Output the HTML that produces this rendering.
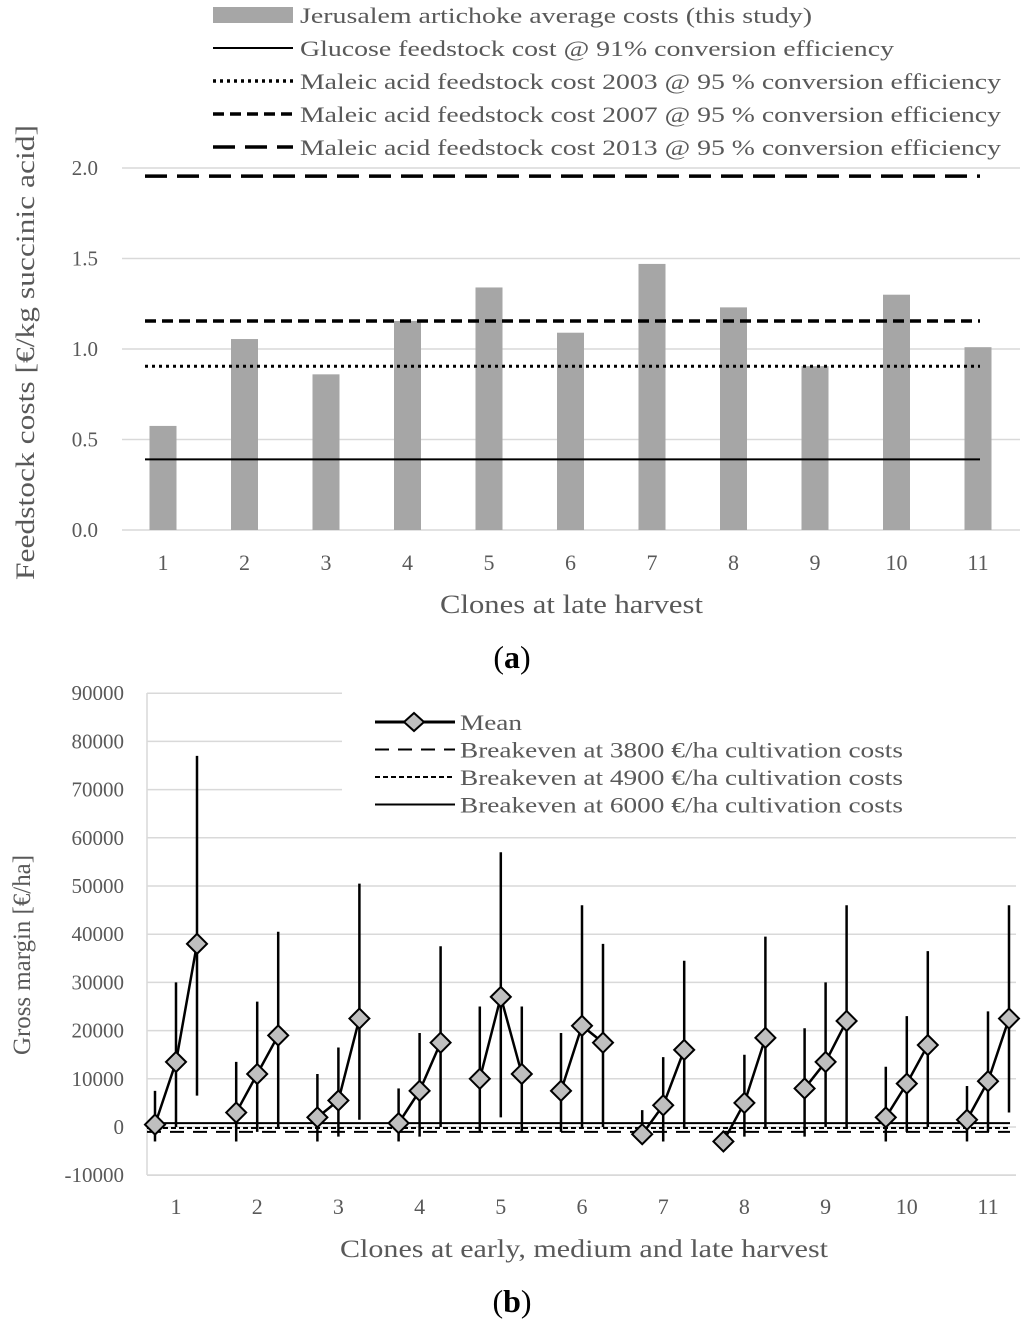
<!DOCTYPE html>
<html><head><meta charset="utf-8"><style>
body{margin:0;background:#fff;}
svg text{font-family:"Liberation Serif",serif;fill:#595959;}
</style></head><body>
<svg id="s" width="1024" height="1325" xmlns="http://www.w3.org/2000/svg">
<g id="ga"></g>
<g id="gb"></g>
<text x="512" y="668" text-anchor="middle" font-size="32" style="fill:#000">(<tspan font-weight="bold">a</tspan>)</text>
<text x="512" y="1312" text-anchor="middle" font-size="32" style="fill:#000">(<tspan font-weight="bold">b</tspan>)</text>
</svg>
<script>
const NS="http://www.w3.org/2000/svg";
// Chart A data
const aCats=["1","2","3","4","5","6","7","8","9","10","11"];
const aBars=[0.575,1.055,0.86,1.155,1.34,1.09,1.47,1.23,0.905,1.30,1.01];
const aTicks=[0,0.5,1.0,1.5,2.0];
const aGlucose=0.39, aMal2003=0.905, aMal2007=1.155, aMal2013=1.955;
// Chart B data
const bCats=["1","2","3","4","5","6","7","8","9","10","11"];
const bMeans=[[500,13500,38000],[3000,11000,19000],[2000,5500,22500],[800,7500,17500],[10000,27000,11000],[7500,21000,17500],[-1500,4500,16000],[-3000,5000,18500],[8000,13500,22000],[2000,9000,17000],[1500,9500,22500]];
const bHigh=[[7500,30000,77000],[13500,26000,40500],[11000,16500,50500],[8000,19500,37500],[25000,57000,25000],[19500,46000,38000],[3500,14500,34500],[-3000,15000,39500],[20500,30000,46000],[12500,23000,36500],[8500,24000,46000]];
const bLow=[[-3000,0,6500],[-3000,-1000,0],[-3000,-2000,1500],[-3000,-2000,0],[-1000,2000,-1000],[-1000,0,0],[-3000,-3000,0],[-3000,-2000,0],[-2000,0,0],[-3000,-1000,0],[-3000,-1000,3000]];
const bTicks=[-10000,0,10000,20000,30000,40000,50000,60000,70000,80000,90000];
const bBreak3800=-1000, bBreak4900=-200, bBreak6000=800;

function el(p,tag,at,name,txt){const e=document.createElementNS(NS,tag);for(const k in at)e.setAttribute(k,at[k]);


if(txt!==undefined)e.textContent=txt;p.appendChild(e);return e;}

// ---- Chart A
const ga=document.getElementById('ga');
const ay=v=>530-v*181, ax=i=>163+i*81.5;
aTicks.forEach(t=>{el(ga,'line',{x1:122,x2:1020,y1:ay(t),y2:ay(t),stroke:'#d9d9d9','stroke-width':1.5},'gridline-a');
el(ga,'text',{x:98,y:ay(t)+7,'text-anchor':'end','font-size':21},'y-tick-a',t.toFixed(1));});
aBars.forEach((v,i)=>{el(ga,'rect',{x:ax(i)-13.5,y:ay(v),width:27,height:ay(0)-ay(v),fill:'#a6a6a6'},'bar-clone-'+aCats[i]);
el(ga,'text',{x:ax(i),y:570,'text-anchor':'middle','font-size':22},'x-tick-a',aCats[i]);});
el(ga,'line',{x1:145,x2:980,y1:ay(aGlucose),y2:ay(aGlucose),stroke:'#000','stroke-width':2},'glucose-line');
el(ga,'line',{x1:145,x2:980,y1:ay(aMal2003),y2:ay(aMal2003),stroke:'#000','stroke-width':3,'stroke-dasharray':'3 4'},'maleic-2003-line');
el(ga,'line',{x1:145,x2:980,y1:ay(aMal2007),y2:ay(aMal2007),stroke:'#000','stroke-width':3.5,'stroke-dasharray':'11 6'},'maleic-2007-line');
el(ga,'line',{x1:145,x2:980,y1:ay(aMal2013),y2:ay(aMal2013),stroke:'#000','stroke-width':3.5,'stroke-dasharray':'22 10'},'maleic-2013-line');
el(ga,'text',{x:440,y:613,'font-size':26,textLength:263,lengthAdjust:'spacingAndGlyphs'},'x-axis-title-a','Clones at late harvest');
el(ga,'text',{x:0,y:0,'font-size':26,textLength:455,lengthAdjust:'spacingAndGlyphs',transform:'translate(34,580) rotate(-90)'},'y-axis-title-a','Feedstock costs  [€/kg succinic acid]');
const legA=[['Jerusalem artichoke average costs (this study)','bar',512],['Glucose feedstock cost @ 91% conversion efficiency','none',594],['Maleic acid feedstock cost 2003 @ 95 % conversion efficiency','3 4',701],['Maleic acid feedstock cost 2007 @ 95 % conversion efficiency','11 6',701],['Maleic acid feedstock cost 2013 @ 95 % conversion efficiency','22 10',701]];
legA.forEach((l,i)=>{const y=15+i*33;
if(l[1]==='bar')el(ga,'rect',{x:213,y:y-8,width:80,height:16,fill:'#a6a6a6'},'legend-swatch-a');
else el(ga,'line',{x1:213,x2:293,y1:y,y2:y,stroke:'#000','stroke-width':l[1]==='none'?2:3.5,'stroke-dasharray':l[1]==='none'?'':l[1]},'legend-swatch-a');
el(ga,'text',{x:300,y:y+8,'font-size':22,textLength:l[2],lengthAdjust:'spacingAndGlyphs'},'legend-entry-a',l[0]);});

// ---- Chart B
const gb=document.getElementById('gb');
const by=v=>1127-v*0.00482, bx=(i,j)=>176+i*81.2+(j-1)*21;
el(gb,'line',{x1:147,x2:147,y1:693,y2:1175,stroke:'#d9d9d9','stroke-width':1.5},'y-axis-b');
bTicks.forEach(t=>{const x2=t>=70000?342:1016;
el(gb,'line',{x1:147,x2:x2,y1:by(t),y2:by(t),stroke:'#d9d9d9','stroke-width':1.5},'gridline-b');
el(gb,'text',{x:124,y:by(t)+7,'text-anchor':'end','font-size':21},'y-tick-b',String(t));});
el(gb,'line',{x1:147,x2:1016,y1:1175,y2:1175,stroke:'#d9d9d9','stroke-width':1.5},'x-axis-b');
el(gb,'line',{x1:147,x2:1010,y1:by(bBreak6000),y2:by(bBreak6000),stroke:'#000','stroke-width':2},'breakeven-6000-line');
el(gb,'line',{x1:147,x2:1010,y1:by(bBreak4900),y2:by(bBreak4900),stroke:'#000','stroke-width':2,'stroke-dasharray':'5 3'},'breakeven-4900-line');
el(gb,'line',{x1:147,x2:1010,y1:by(bBreak3800),y2:by(bBreak3800),stroke:'#000','stroke-width':2,'stroke-dasharray':'14 9'},'breakeven-3800-line');
bMeans.forEach((g,i)=>{
 g.forEach((v,j)=>el(gb,'line',{x1:bx(i,j),x2:bx(i,j),y1:by(bHigh[i][j]),y2:by(bLow[i][j]),stroke:'#000','stroke-width':2.5},'error-bar'));
 el(gb,'polyline',{points:g.map((v,j)=>bx(i,j)+','+by(v)).join(' '),fill:'none',stroke:'#000','stroke-width':2.5},'mean-line-clone-'+bCats[i]);
 g.forEach((v,j)=>{const x=bx(i,j),y=by(v);
  el(gb,'polygon',{points:`${x-10},${y} ${x},${y-10} ${x+10},${y} ${x},${y+10}`,fill:'#bfbfbf',stroke:'#000','stroke-width':2},'mean-marker');});
 el(gb,'text',{x:bx(i,1),y:1214,'text-anchor':'middle','font-size':22},'x-tick-b',bCats[i]);
});
el(gb,'text',{x:340,y:1257,'font-size':25,textLength:488,lengthAdjust:'spacingAndGlyphs'},'x-axis-title-b','Clones at early, medium and late harvest');
el(gb,'text',{x:0,y:0,'font-size':25,textLength:200,lengthAdjust:'spacingAndGlyphs',transform:'translate(30,1055) rotate(-90)'},'y-axis-title-b','Gross margin [€/ha]');
const legB=[['Mean','m',62],['Breakeven  at 3800 €/ha cultivation  costs','14 9',443],['Breakeven  at 4900 €/ha cultivation  costs','5 3',443],['Breakeven  at 6000 €/ha cultivation  costs','',443]];
legB.forEach((l,i)=>{const y=722+i*27.5;
 el(gb,'line',{x1:375,x2:455,y1:y,y2:y,stroke:'#000','stroke-width':l[1]==='m'?3:2,'stroke-dasharray':l[1]==='m'?'':l[1]},'legend-swatch-b');
 if(l[1]==='m')el(gb,'polygon',{points:`404,${y} 414,${y-9} 424,${y} 414,${y+9}`,fill:'#bfbfbf',stroke:'#000','stroke-width':2},'legend-marker-b');
 el(gb,'text',{x:460,y:y+8,'font-size':22,textLength:l[2],lengthAdjust:'spacingAndGlyphs'},'legend-entry-b',l[0]);});
</script>
</body></html>
